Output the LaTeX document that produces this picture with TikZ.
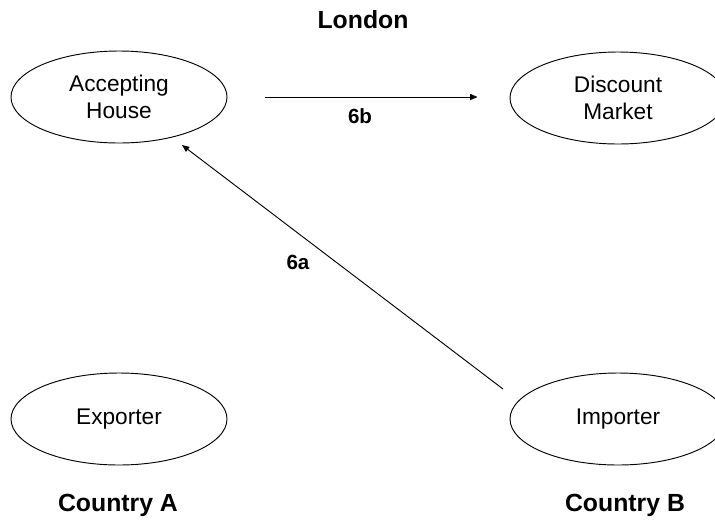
\documentclass[tikz,border=0pt]{standalone}
\usepackage{fontspec}
\setmainfont{Liberation Sans}
\usetikzlibrary{shapes.geometric,arrows.meta}

\tikzset{
  party/.style={ellipse, draw, line width=0.7pt, minimum width=162pt, minimum height=69pt,
    inner sep=0pt, align=center, font=\fontsize{17}{20.25}\selectfont},
  place/.style={font=\fontsize{18.6}{22}\selectfont\bfseries},
  flow/.style={line width=0.7pt, -{Triangle[length=5.5pt,width=4.5pt]}},
  flowlabel/.style={font=\fontsize{15.4}{18}\selectfont\bfseries},
}

\begin{document}
\begin{tikzpicture}[x=0.75pt, y=-0.75pt]
  \clip (0,0) rectangle (715,519);

  \node[place] (london) at (363,20) {London};

  \node[party] (acc) at (119,97) {Accepting\\House};
  \node[party] (disc) at (618,98) {Discount\\Market};
  \node[party] (exp) at (119,419) {Exporter};
  \node[party] (imp) at (618,419) {Importer};

  \node[place, anchor=base] (ctya) at (118,511) {Country A};
  \node[place, anchor=base] (ctyb) at (625,511) {Country B};

  % flows
  \coordinate (a6s) at (503,389);
  \coordinate (a6e) at (182,145);
  \draw[flow] ([xshift=28.5pt]acc.east) -- ([xshift=-24pt]acc.east -| disc.west);
  \node[flowlabel] (l6b) at (360,116) {6b};
  \draw[flow] (a6s) -- (a6e);
  \node[flowlabel] (l6a) at (298,262) {6a};
\end{tikzpicture}
\end{document}
